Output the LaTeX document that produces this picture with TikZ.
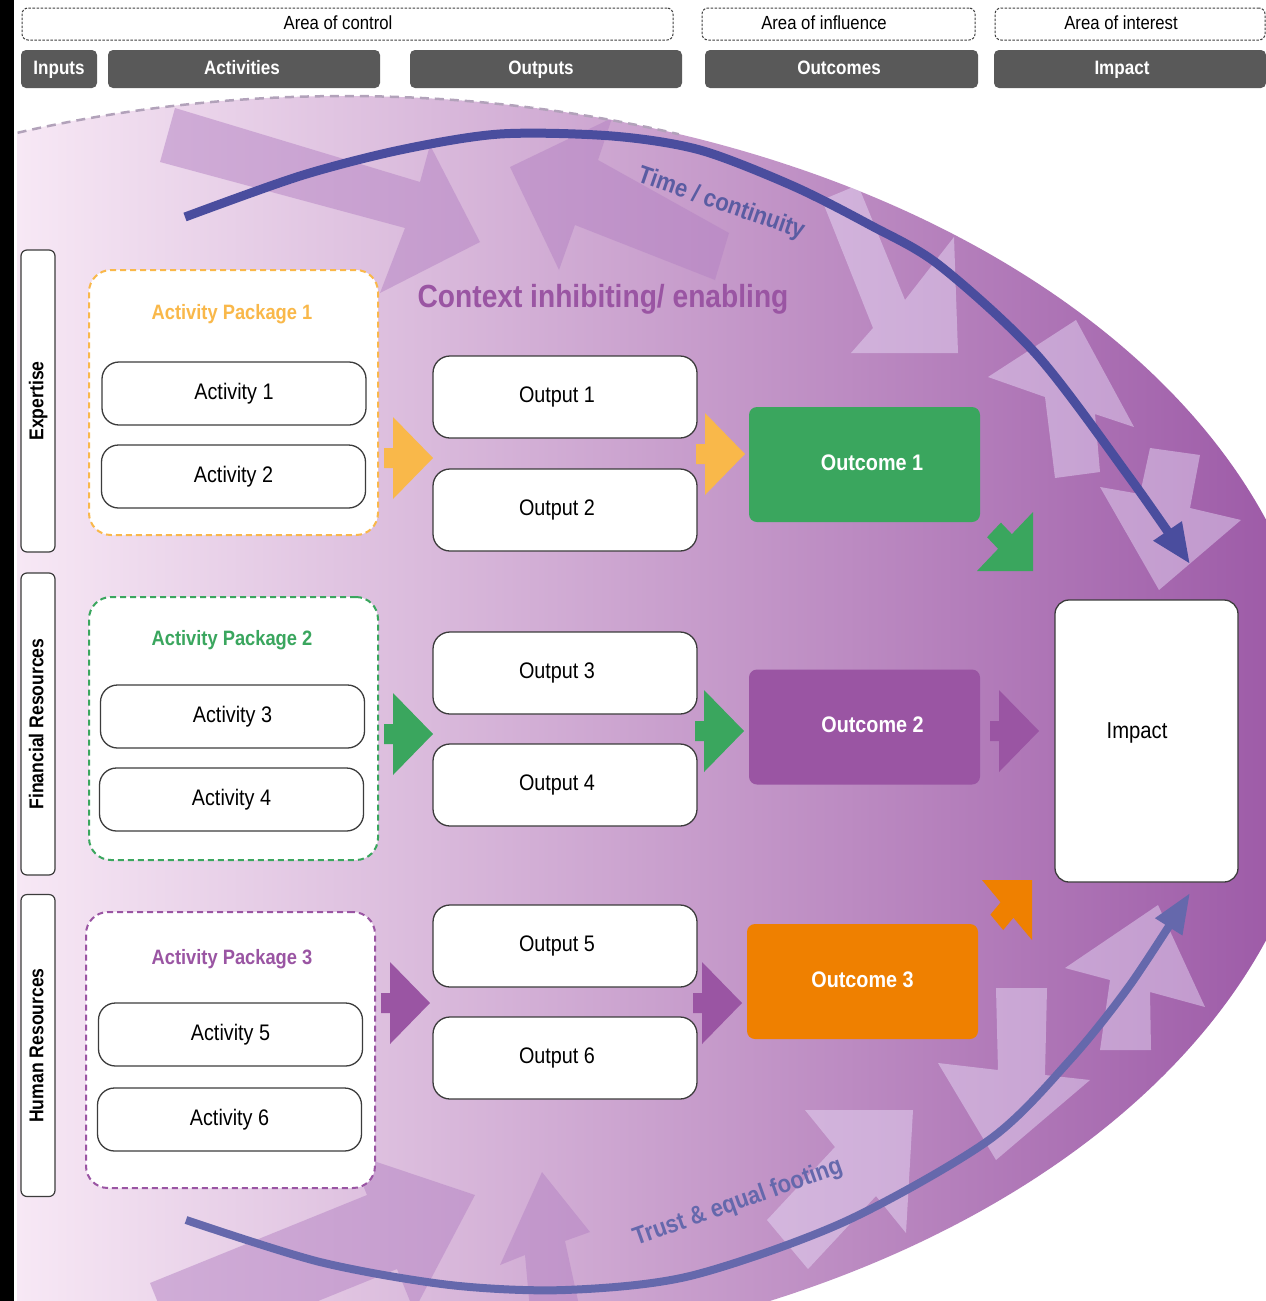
\documentclass[tikz,border=0pt]{standalone}
\usepackage{fontspec}
\setmainfont{Liberation Sans}[FakeStretch=0.88]
\usetikzlibrary{arrows.meta}
\definecolor{hdr}{RGB}{89,89,89}
\definecolor{bgL}{RGB}{247,232,245}
\definecolor{bgR}{RGB}{158,92,168}
\definecolor{yel}{RGB}{249,184,74}
\definecolor{grn}{RGB}{58,166,94}
\definecolor{pur}{RGB}{154,85,163}
\definecolor{org}{RGB}{239,128,0}
\definecolor{tblue}{RGB}{74,77,158}
\definecolor{tblue2}{RGB}{101,104,172}
\definecolor{ttext}{RGB}{90,92,162}
\definecolor{ctxd}{RGB}{180,130,195}
\definecolor{ctxl}{RGB}{235,225,250}
\definecolor{boxline}{RGB}{60,60,60}
\definecolor{dashgrey}{RGB}{178,162,186}
\newcommand\fs[1]{\fontsize{#1}{#1}\selectfont}
\newcommand\bgellipse{(345,730) ellipse [x radius=976, y radius=634]}
\newcommand\harr[3]{\fill[#1] (#2,#3-10) -- (#2+9,#3-10) -- (#2+9,#3-41) -- (#2+49,#3) -- (#2+9,#3+41) -- (#2+9,#3+10) -- (#2,#3+10) -- cycle;}
\begin{document}
\begin{tikzpicture}[x=1pt,y=-1pt,
  areabox/.style={draw=black!75, dash pattern=on 2.5pt off 1.5pt, line width=1pt, rounded corners=6pt, fill=white, minimum height=32pt, inner sep=0pt},
  areatext/.style={font=\fs{19}, inner sep=0pt, text height=14pt, text depth=4pt},
  hdrbox/.style={fill=hdr, rounded corners=5pt, minimum height=38pt, inner sep=0pt, text=white, font=\bfseries\fs{19.4}, text height=14pt, text depth=4pt},
  sidebox/.style={draw=boxline, line width=1.2pt, fill=white, rounded corners=6pt, minimum width=302pt, minimum height=34pt, inner sep=0pt, rotate=90, font=\bfseries\fs{20}, text height=14.5pt, text depth=4pt},
  pkgbox/.style={dash pattern=on 6pt off 4pt, line width=2pt, rounded corners=22pt, fill=white, minimum width=289pt, inner sep=0pt},
  pkgtitle/.style={font=\bfseries\fs{20.8}, inner sep=0pt, text height=15pt, text depth=4.5pt},
  actbox/.style={draw=boxline, line width=1.3pt, fill=white, rounded corners=17pt, minimum width=264pt, minimum height=63pt, inner sep=0pt, font=\fs{22.5}, text height=16pt, text depth=5pt},
  outbox/.style={actbox, minimum height=82pt, execute at end node={\hspace*{16pt}}},
  outcomebox/.style={rounded corners=8pt, minimum width=231pt, minimum height=115pt, inner sep=0pt, text=white, font=\bfseries\fs{22.5}, text height=16pt, text depth=5pt},
  ctxdark/.style={fill=ctxd, fill opacity=0.5},
  ctxlight/.style={fill=ctxl, fill opacity=0.45},
  arcline/.style={line width=#1, line cap=butt},
  curvetext/.style={font=\bfseries\fs{25}, inner sep=0pt}
]
\useasboundingbox (0,0) rectangle (1266,1301);
\fill[white] (0,0) rectangle (1266,1301);
\fill[black] (0,0) rectangle (14,1301);

% ---------- header ----------
\node[areabox, minimum width=651pt] (aoc) at (347.5,24) {};
\node[areatext] (aoctxt) at (338,24) {Area of control};
\node[areabox, minimum width=273pt] (aoinf) at (838.5,24) {};
\node[areatext] (aoinftxt) at (824,24) {Area of influence};
\node[areabox, minimum width=270pt] (aoint) at (1130,24) {};
\node[areatext] (aointtxt) at (1121,24) {Area of interest};

\node[hdrbox, minimum width=76pt] (hin) at (59,69) {Inputs};
\node[hdrbox, minimum width=272pt, execute at end node={\hspace*{4pt}}] (hact) at (244,69) {Activities};
\node[hdrbox, minimum width=272pt, execute at end node={\hspace*{10pt}}] (hout) at (546,69) {Outputs};
\node[hdrbox, minimum width=273pt, execute at end node={\hspace*{5pt}}] (hoc) at (841.5,69) {Outcomes};
\node[hdrbox, minimum width=272pt, execute at end node={\hspace*{16pt}}] (himp) at (1130,69) {Impact};

% ---------- background ----------
\begin{scope}
\clip (17,0) rectangle (1266,1301);
\clip \bgellipse;
\shade[left color=bgL, right color=bgR] (17,90) rectangle (1266,1301);
% darker context arrows
\fill[ctxdark] (175,108) -- (420,182) -- (430,145) -- (480,242) -- (380,293) -- (405,228) -- (160,162) -- cycle;
\fill[ctxdark] (510,167) -- (612,118) -- (598,160) -- (729,233) -- (715,280) -- (575,225) -- (559,270) -- cycle;
\fill[ctxdark] (150,1283) -- (367,1195) -- (350,1153) -- (475,1195) -- (414,1311) -- (397,1269) -- (180,1357) -- cycle;
\fill[ctxdark] (542,1172) -- (590,1232) -- (565,1241) -- (580,1310) -- (530,1310) -- (525,1255) -- (500,1265) -- cycle;
% lighter context arrows
\fill[ctxlight] (958,353) -- (851,353) -- (873,328) -- (822,200) -- (858,185) -- (905,300) -- (954,237) -- cycle;
\fill[ctxlight] (1076,320) -- (1134,427) -- (1095,414) -- (1100,472) -- (1055,478) -- (1045,397) -- (988,377) -- cycle;
\fill[ctxlight] (1159,590) -- (1100,487) -- (1140,494) -- (1150,448) -- (1200,455) -- (1190,508) -- (1241,520) -- cycle;
\fill[ctxlight] (1158,905) -- (1205,1007) -- (1150,992) -- (1151,1050) -- (1100,1050) -- (1110,980) -- (1065,968) -- cycle;
\fill[ctxlight] (996,1160) -- (938,1063) -- (998,1070) -- (996,988) -- (1047,988) -- (1045,1075) -- (1090,1080) -- cycle;
\fill[ctxlight] (913,1110) -- (805,1110) -- (835,1147) -- (767,1220) -- (808,1269) -- (876,1196) -- (906,1233) -- cycle;
\end{scope}
\draw[dashgrey, line width=2.5pt, dash pattern=on 9pt off 6pt] plot[domain=-109.6:-70, samples=60] ({345+976*cos(\x)},{730+634*sin(\x)});

% ---------- time / trust arcs ----------
\draw[tblue, arcline=9pt, -{Triangle[length=40pt,width=32pt]}] plot[smooth] coordinates {(185,217) (300,176) (400,150) (500,134) (612,136) (700,150) (793,186) (870,225) (939,265) (1037,355) (1130,478) (1190,564)};
\draw[tblue2, arcline=8pt, -{Triangle[length=40pt,width=30pt]}] plot[smooth] coordinates {(186,1220) (320,1262) (450,1285) (565,1290) (690,1276) (844,1222) (989,1140) (1070,1060) (1130,985) (1190,893)};
\node[curvetext, text=ttext, rotate=-19] (timetxt) at (721,204) {Time / continuity};
\node[curvetext, text=tblue2, rotate=19.5] (trusttxt) at (738,1203) {Trust \& equal footing};

\node[font=\bfseries\fs{32}, text=pur, inner sep=0pt] (ctx) at (603,299) {Context inhibiting/ enabling};

% ---------- resources ----------
\node[sidebox] (res1) at (38,401) {Expertise};
\node[sidebox] (res2) at (38,724) {Financial Resources};
\node[sidebox] (res3) at (38,1045.5) {Human Resources};

% ---------- activity packages ----------
\node[pkgbox, draw=yel, minimum height=265pt] (ap1) at (233.5,402.5) {};
\node[pkgtitle, text=yel] (ap1t) at (232,314) {Activity Package 1};
\node[pkgbox, draw=grn, minimum height=263pt] (ap2) at (233.5,728.5) {};
\node[pkgtitle, text=grn] (ap2t) at (232,640) {Activity Package 2};
\node[pkgbox, draw=pur, minimum height=276pt] (ap3) at (230.5,1050) {};
\node[pkgtitle, text=pur] (ap3t) at (232,959) {Activity Package 3};

\node[actbox] (act1) at (234,393.5) {Activity 1};
\node[actbox] (act2) at (233.5,476.5) {Activity 2};
\node[actbox] (act3) at (232.5,716.5) {Activity 3};
\node[actbox] (act4) at (231.5,799.5) {Activity 4};
\node[actbox] (act5) at (230.5,1034.5) {Activity 5};
\node[actbox] (act6) at (229.5,1119.5) {Activity 6};

% ---------- outputs ----------
\node[outbox] (out1) at (565,397) {Output 1};
\node[outbox] (out2) at (565,510) {Output 2};
\node[outbox] (out3) at (565,673) {Output 3};
\node[outbox] (out4) at (565,785) {Output 4};
\node[outbox] (out5) at (565,946) {Output 5};
\node[outbox] (out6) at (565,1058) {Output 6};

% ---------- outcomes / impact ----------
\node[outcomebox, fill=grn, execute at begin node={\hspace*{15pt}}] (oc1) at (864.5,464.5) {Outcome 1};
\node[outcomebox, fill=pur, execute at begin node={\hspace*{16pt}}] (oc2) at (864.5,727) {Outcome 2};
\node[outcomebox, fill=org] (oc3) at (862.5,981.5) {Outcome 3};
\node[draw=boxline, line width=1.3pt, fill=white, rounded corners=14pt, minimum width=183pt, minimum height=282pt, inner sep=0pt] (imp) at (1146.5,741) {};
\node[font=\fs{23}, inner sep=0pt] (impt) at (1137,733) {Impact};

% ---------- block arrows ----------
\harr{yel}{384}{458}
\harr{yel}{696}{454}
\harr{grn}{384}{734}
\harr{grn}{695}{731}
\harr{pur}{381}{1003}
\harr{pur}{693}{1003}
\harr{pur}{990}{731}
\fill[grn] (1033,571) -- (977,571) -- (998.1,548.8) -- (987.1,537.2) -- (1000.9,522.6) -- (1011.9,534.2) -- (1033,512) -- cycle;
\fill[org] (1032,880) -- (982,880) -- (1000.6,902.3) -- (990.4,914.6) -- (1003.2,930) -- (1013.4,917.7) -- (1032,940) -- cycle;
\end{tikzpicture}
\end{document}
